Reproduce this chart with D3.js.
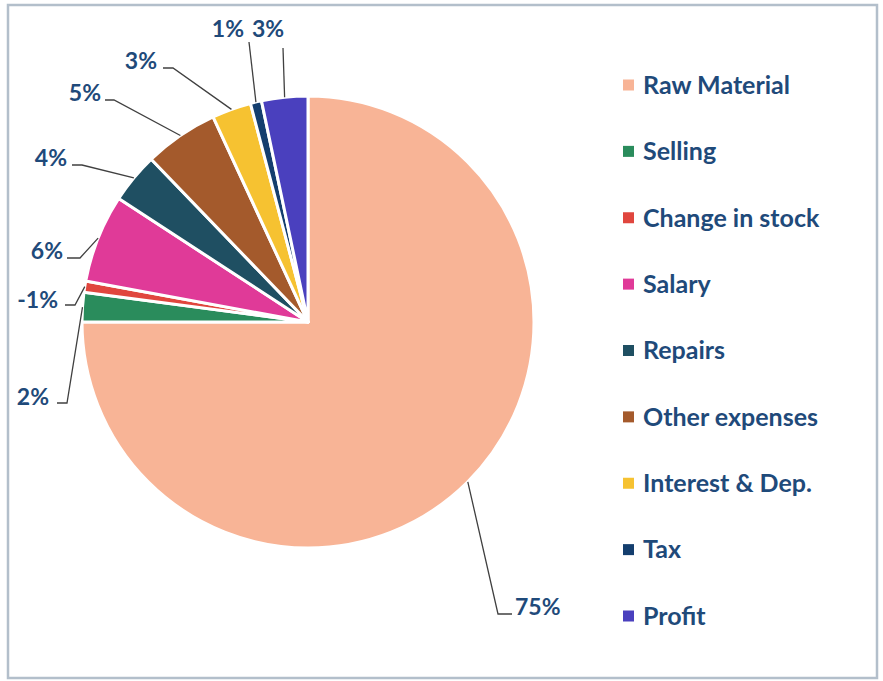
<!DOCTYPE html>
<html>
<head>
<meta charset="utf-8">
<script src="https://cdn.jsdelivr.net/npm/d3@7/dist/d3.min.js"></script>
<style>
  html, body { margin: 0; padding: 0; background: #ffffff; }
  svg { display: block; }
  text { font-family: Lato, "Open Sans", sans-serif; font-weight: 700; }
</style>
</head>
<body>
<svg id="chart" width="883" height="681"></svg>
<script>
// Cost breakdown (share of total, %)
const categories = ["Raw Material", "Selling", "Change in stock", "Salary", "Repairs",
                    "Other expenses", "Interest & Dep.", "Tax", "Profit"];
const values = [75.0, 2.1, -0.8, 6.3, 3.6, 5.3, 2.8, 0.8, 3.3];
const colors = ["#F8B496", "#2A8C5C", "#E0463E", "#E03A98", "#1F4F62",
                "#A45A2C", "#F6C231", "#143E6E", "#4A40BE"];

// Label placement: text anchor point plus the bend and end of each leader line
const labelLayout = [
  { x: 515, y: 607, anchor: "start", bend: [498, 614], end: [512, 614] },
  { x: 49,  y: 397, anchor: "end",   bend: [67, 403],  end: [57, 403] },
  { x: 58,  y: 300, anchor: "end",   bend: [75, 305],  end: [65, 305] },
  { x: 63,  y: 251, anchor: "end",   bend: [80, 258],  end: [67, 258] },
  { x: 67,  y: 158, anchor: "end",   bend: [82, 165],  end: [72, 165] },
  { x: 101, y: 93,  anchor: "end",   bend: [114, 100], end: [105, 100] },
  { x: 157, y: 61,  anchor: "end",   bend: [173, 68],  end: [163, 68] },
  { x: 244, y: 29,  anchor: "end",   bend: [249, 42],  end: [249, 42] },
  { x: 252, y: 29,  anchor: "start", bend: [283, 48],  end: [283, 48] }
];

const svg = d3.select("#chart");
const textColor = "#1F4A7A";

// chart frame
svg.append("rect")
  .attr("x", 8).attr("y", 5)
  .attr("width", 869).attr("height", 673)
  .attr("fill", "#ffffff")
  .attr("stroke", "#B3BFCB")
  .attr("stroke-width", 2.5);

const cx = 308, cy = 322, radius = 226;
const g = svg.append("g").attr("transform", `translate(${cx},${cy})`);

const pie = d3.pie().value(d => Math.abs(d)).sort(null);
const arcs = pie(values);
const total = d3.sum(values, d => Math.abs(d));

const arc = d3.arc().innerRadius(0).outerRadius(radius);
const edgeArc = d3.arc().innerRadius(radius).outerRadius(radius);

g.selectAll("path.slice")
  .data(arcs)
  .join("path")
  .attr("class", "slice")
  .attr("d", arc)
  .attr("fill", (d, i) => colors[i])
  .attr("stroke", "#ffffff")
  .attr("stroke-width", 3)
  .attr("stroke-linejoin", "round");

// leader lines
svg.selectAll("polyline.leader")
  .data(arcs)
  .join("polyline")
  .attr("class", "leader")
  .attr("points", (d, i) => {
    const p = edgeArc.centroid(d);
    const L = labelLayout[i];
    return [[cx + p[0], cy + p[1]], L.bend, L.end].map(q => q.join(",")).join(" ");
  })
  .attr("fill", "none")
  .attr("stroke", "#404040")
  .attr("stroke-width", 1.3);

// percentage labels
const pct = v => Math.round(v / total * 100) + "%";
svg.selectAll("text.pct")
  .data(arcs)
  .join("text")
  .attr("class", "pct")
  .attr("x", (d, i) => labelLayout[i].x)
  .attr("y", (d, i) => labelLayout[i].y)
  .attr("dy", "0.35em")
  .attr("text-anchor", (d, i) => labelLayout[i].anchor)
  .attr("fill", textColor)
  .attr("font-size", 23)
  .text(d => pct(d.data));

// legend
const legendY = d3.scalePoint().domain(categories).range([85, 616]);
const legend = svg.append("g");
const item = legend.selectAll("g")
  .data(categories)
  .join("g")
  .attr("transform", d => `translate(623,${legendY(d)})`);
item.append("rect")
  .attr("x", 0).attr("y", -5.5)
  .attr("width", 11).attr("height", 11)
  .attr("fill", (d, i) => colors[i]);
item.append("text")
  .attr("x", 20).attr("y", 0)
  .attr("dy", "0.35em")
  .attr("fill", textColor)
  .attr("font-size", 25)
  .text(d => d);
</script>
</body>
</html>
